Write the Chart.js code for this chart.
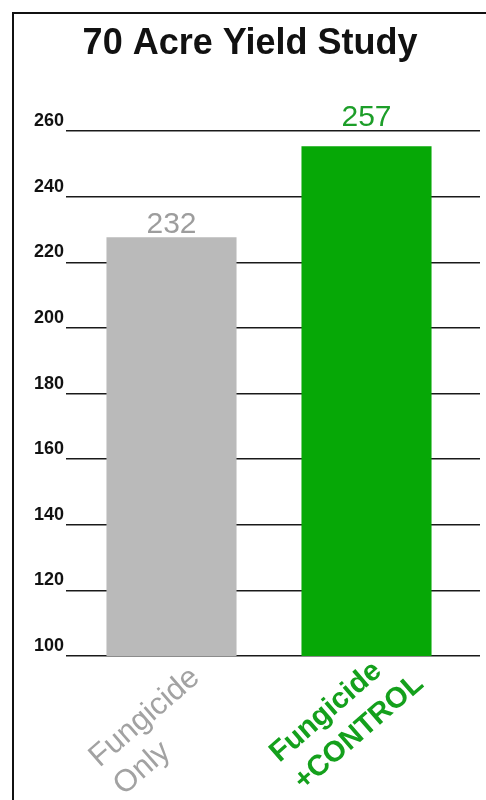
<!DOCTYPE html>
<html>
<head>
<meta charset="utf-8">
<title>70 Acre Yield Study</title>
<script src="https://cdn.jsdelivr.net/npm/chart.js@4.4.1/dist/chart.umd.min.js"></script>
<style>
    html, body { margin: 0; padding: 0; background: #fff; }
    #wrap { position: relative; width: 486px; height: 800px; overflow: hidden; }
    #frame {
        position: absolute; left: 12px; top: 12px; width: 600px; height: 900px;
        border-left: 2px solid #111; border-top: 2px solid #111; pointer-events: none;
    }
</style>
</head>
<body>
<div id="wrap">
    <canvas id="yieldChart" width="486" height="800"></canvas>
    <div id="frame"></div>
</div>
<script>
// Chart data
const categories = [['Fungicide', 'Only'], ['Fungicide', '+CONTROL']];
const yieldBars = [227.7, 255.4];      // bar heights as drawn
const yieldLabels = ['232', '257'];     // numbers printed above the bars
const yMin = 100;
const yMax = 260;
const yStep = 20;

const barColors = ['#bababa', '#06a806'];
const labelColors = ['#a2a2a2', '#14a01c'];
const valueColors = ['#9d9d9d', '#1d9e29'];
const labelFonts = ['normal 31px', 'bold 29px'];
// hand placement of the texts in the original, px from bar centre / bar top
const labelShift = [[-72, 112], [-87, 107]];
const valueGap = [4, 20];

// draws the number above each bar
const valueLabels = {
    id: 'valueLabels',
    afterDatasetsDraw(chart) {
        const ctx = chart.ctx;
        const bars = chart.getDatasetMeta(0).data;
        ctx.save();
        ctx.font = '30px "Liberation Sans", Arial, sans-serif';
        ctx.textAlign = 'center';
        ctx.textBaseline = 'alphabetic';
        bars.forEach((bar, i) => {
            ctx.fillStyle = valueColors[i];
            ctx.fillText(yieldLabels[i], bar.x, bar.y - valueGap[i]);
        });
        ctx.restore();
    }
};

// rotated two-line category labels under the bars
const categoryLabels = {
    id: 'categoryLabels',
    afterDraw(chart) {
        const ctx = chart.ctx;
        const xScale = chart.scales.x;
        const base = chart.chartArea.bottom;
        ctx.save();
        ctx.textAlign = 'left';
        ctx.textBaseline = 'alphabetic';
        categories.forEach((lines, i) => {
            const x = xScale.getPixelForValue(i);
            ctx.save();
            ctx.translate(x + labelShift[i][0], base + labelShift[i][1]);
            ctx.rotate(-41 * Math.PI / 180);
            ctx.fillStyle = labelColors[i];
            ctx.font = labelFonts[i] + ' "Liberation Sans", Arial, sans-serif';
            lines.forEach((line, j) => {
                ctx.fillText(line, 0, j * 37);
            });
            ctx.restore();
        });
        ctx.restore();
    }
};

const ctx = document.getElementById('yieldChart').getContext('2d');
new Chart(ctx, {
    type: 'bar',
    data: {
        datasets: [{
            data: yieldBars.map((v, i) => ({ x: i, y: v })),
            backgroundColor: barColors,
            borderWidth: 0,
            barPercentage: 0.667,
            categoryPercentage: 1
        }]
    },
    options: {
        responsive: false,
        animation: false,
        layout: { padding: { left: 20, right: 6, top: 0, bottom: 0 } },
        plugins: {
            legend: { display: false },
            tooltip: { enabled: false },
            title: {
                display: true,
                text: '70 Acre Yield Study',
                color: '#111',
                font: { family: '"Liberation Sans", Arial, sans-serif', size: 36, weight: 'bold' },
                padding: { top: 22, bottom: 66 }
            }
        },
        scales: {
            x: {
                type: 'linear',
                offset: false,
                min: -0.541,
                max: 1.582,
                afterBuildTicks: (scale) => { scale.ticks = categories.map((c, i) => ({ value: i })); },
                afterFit: (scale) => { scale.height = 144; },
                ticks: { display: false },
                grid: { display: false },
                border: { display: false }
            },
            y: {
                min: yMin,
                max: yMax,
                afterFit: (scale) => { scale.width = 46; },
                ticks: {
                    stepSize: yStep,
                    color: '#111',
                    padding: 2,
                    labelOffset: -10,
                    font: { family: '"Liberation Sans", Arial, sans-serif', size: 18, weight: 'bold' }
                },
                grid: { color: '#1a1a1a', lineWidth: 1.6, drawTicks: false },
                border: { display: false }
            }
        }
    },
    plugins: [valueLabels, categoryLabels]
});
</script>
</body>
</html>
